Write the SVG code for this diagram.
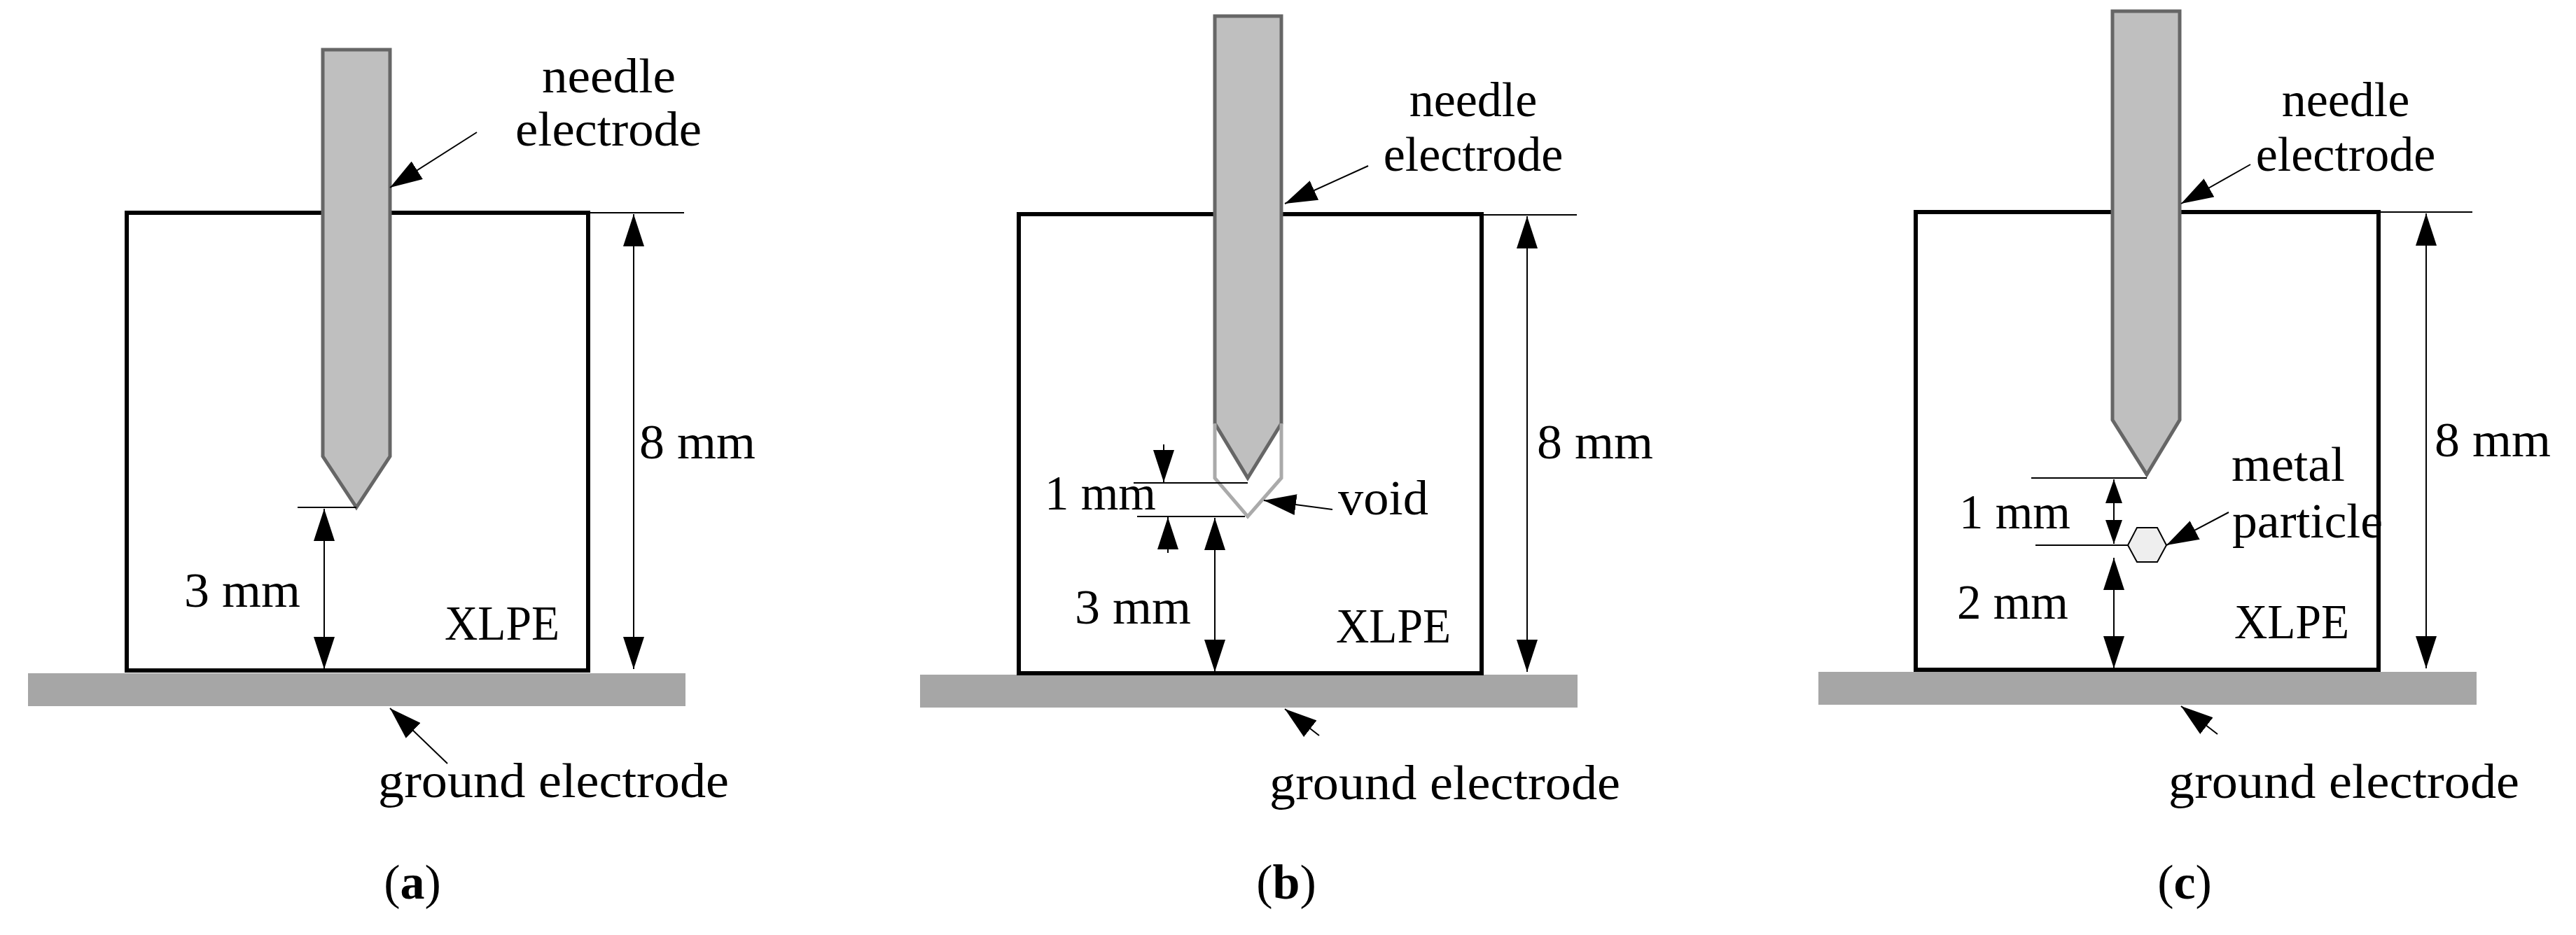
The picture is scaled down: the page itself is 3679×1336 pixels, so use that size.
<svg xmlns="http://www.w3.org/2000/svg" width="3679" height="1336" viewBox="0 0 3679 1336">
<style>
text{font-family:"Liberation Serif","Times New Roman",serif;font-size:70px;fill:#000}
.box{fill:none;stroke:#000;stroke-width:6}
.needle{fill:#bfbfbf;stroke:#666;stroke-width:5}
.gnd{fill:#a6a6a6}
.ln{stroke:#000;stroke-width:2;fill:none}
.ar{stroke:#000;stroke-width:2;fill:none;marker-end:url(#ah)}
.dar{stroke:#000;stroke-width:2;fill:none;marker-end:url(#ah);marker-start:url(#ah)}
.sdar{stroke:#000;stroke-width:2;fill:none;marker-end:url(#sh);marker-start:url(#sh)}
</style>
<defs>
<marker id="ah" markerUnits="userSpaceOnUse" markerWidth="46" markerHeight="30" refX="46" refY="15" orient="auto-start-reverse"><path d="M0,0 L46,15 L0,30 z" fill="#000"/></marker>
<marker id="sh" markerUnits="userSpaceOnUse" markerWidth="34" markerHeight="24" refX="34" refY="12" orient="auto-start-reverse"><path d="M0,0 L34,12 L0,24 z" fill="#000"/></marker>
</defs>
<g id="panel-a">
<rect class="gnd" x="40" y="962" width="939" height="47"/>
<rect class="box" x="181" y="304" width="659" height="654"/>
<path class="needle" d="M461,71 H557 V652 L509,725 L461,652 Z"/>
<text x="774" y="132" textLength="191" lengthAdjust="spacingAndGlyphs">needle</text>
<text x="736" y="208" textLength="266" lengthAdjust="spacingAndGlyphs">electrode</text>
<text x="913" y="655" textLength="166" lengthAdjust="spacingAndGlyphs">8 mm</text>
<text x="263" y="867" textLength="166" lengthAdjust="spacingAndGlyphs">3 mm</text>
<text x="635" y="914" textLength="164" lengthAdjust="spacingAndGlyphs">XLPE</text>
<text x="540" y="1139" textLength="501" lengthAdjust="spacingAndGlyphs">ground electrode</text>
<text x="589" y="1284" text-anchor="middle" font-size="76">(<tspan font-weight="bold">a</tspan>)</text>
</g>
<g id="panel-b">
<rect class="gnd" x="1314" y="964" width="939" height="47"/>
<rect class="box" x="1455" y="306" width="661" height="656"/>
<path class="needle" d="M1735,23 H1830 V605 L1782,683 L1735,605 Z"/>
<path d="M1735,605 V683 L1782,738 L1830,683 V605" fill="none" stroke="#aaa" stroke-width="5"/>
<text x="2104" y="166" text-anchor="middle">needle</text>
<text x="2104" y="244" text-anchor="middle">electrode</text>
<text x="2195" y="655" textLength="166" lengthAdjust="spacingAndGlyphs">8 mm</text>
<text x="1492" y="728" textLength="159" lengthAdjust="spacingAndGlyphs">1 mm</text>
<text x="1911" y="735" textLength="129" lengthAdjust="spacingAndGlyphs">void</text>
<text x="1535" y="891" textLength="166" lengthAdjust="spacingAndGlyphs">3 mm</text>
<text x="1908" y="918" textLength="164" lengthAdjust="spacingAndGlyphs">XLPE</text>
<text x="1813" y="1142" textLength="501" lengthAdjust="spacingAndGlyphs">ground electrode</text>
<text x="1837" y="1284" text-anchor="middle" font-size="76">(<tspan font-weight="bold">b</tspan>)</text>
</g>
<g id="panel-c">
<rect class="gnd" x="2597" y="960" width="940" height="47"/>
<rect class="box" x="2736" y="303" width="661" height="654"/>
<path class="needle" d="M3017,16 H3113 V600 L3066,678 L3017,600 Z"/>
<polygon id="particle" points="3039,779 3052,754 3081,754 3094,779 3081,803 3052,803" fill="#eee" stroke="#000" stroke-width="2"/>
<text x="3350" y="166" text-anchor="middle">needle</text>
<text x="3350" y="244" text-anchor="middle">electrode</text>
<text x="3477" y="652" textLength="166" lengthAdjust="spacingAndGlyphs">8 mm</text>
<text x="3187" y="687" textLength="162" lengthAdjust="spacingAndGlyphs">metal</text>
<text x="3188" y="768" textLength="215" lengthAdjust="spacingAndGlyphs">particle</text>
<text x="2798" y="755" textLength="159" lengthAdjust="spacingAndGlyphs">1 mm</text>
<text x="2795" y="884" textLength="159" lengthAdjust="spacingAndGlyphs">2 mm</text>
<text x="3191" y="912" textLength="164" lengthAdjust="spacingAndGlyphs">XLPE</text>
<text x="3097" y="1140" textLength="501" lengthAdjust="spacingAndGlyphs">ground electrode</text>
<text x="3120" y="1284" text-anchor="middle" font-size="76">(<tspan font-weight="bold">c</tspan>)</text>
</g>
<g id="connectors">
<line class="ln" x1="840" y1="304" x2="977" y2="304"/>
<line class="dar" x1="905" y1="306" x2="905" y2="956"/>
<line class="ln" x1="425" y1="725" x2="509" y2="725"/>
<line class="dar" x1="463" y1="727" x2="463" y2="956"/>
<line class="ar" x1="681" y1="189" x2="557" y2="268"/>
<line class="ar" x1="639" y1="1091" x2="557" y2="1012"/>

<line class="ln" x1="2116" y1="307" x2="2252" y2="307"/>
<line class="dar" x1="2181" y1="309" x2="2181" y2="960"/>
<line class="ln" x1="1619" y1="690" x2="1782" y2="690"/>
<line class="ln" x1="1624" y1="738" x2="1778" y2="738"/>
<line class="ar" x1="1662" y1="635" x2="1662" y2="689"/>
<line class="ar" x1="1668" y1="790" x2="1668" y2="739"/>
<line class="dar" x1="1735" y1="740" x2="1735" y2="960"/>
<line class="ar" x1="1903" y1="728" x2="1805" y2="715"/>
<line class="ar" x1="1954" y1="237" x2="1835" y2="291"/>
<line class="ar" x1="1884" y1="1051" x2="1835" y2="1013"/>

<line class="ln" x1="3397" y1="303" x2="3531" y2="303"/>
<line class="dar" x1="3465" y1="305" x2="3465" y2="955"/>
<line class="ln" x1="2901" y1="683" x2="3066" y2="683"/>
<line class="ln" x1="2907" y1="779" x2="3039" y2="779"/>
<line class="sdar" x1="3019" y1="685" x2="3019" y2="777"/>
<line class="dar" x1="3019" y1="797" x2="3019" y2="955"/>
<line class="ar" x1="3183" y1="732" x2="3094" y2="779"/>
<line class="ar" x1="3214" y1="235" x2="3115" y2="291"/>
<line class="ar" x1="3167" y1="1049" x2="3115" y2="1009"/>
</g>
</svg>
